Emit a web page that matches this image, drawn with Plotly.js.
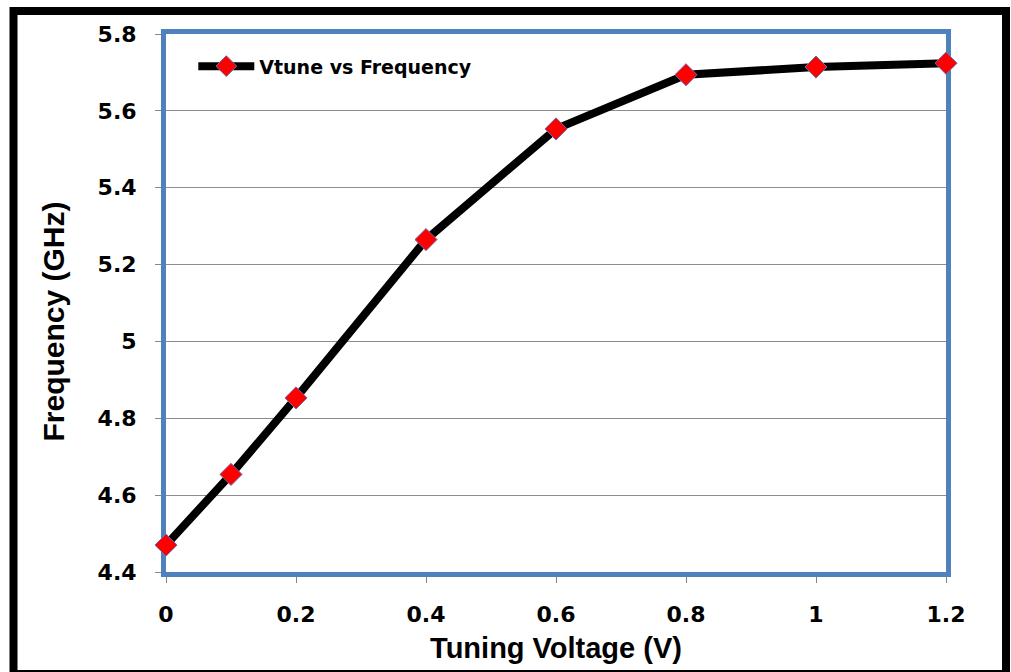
<!DOCTYPE html>
<html>
<head>
<meta charset="utf-8">
<script src="https://cdn.plot.ly/plotly-3.0.1.min.js"></script>
<style>html,body{margin:0;padding:0;background:#fff;}#chart{width:1011px;height:672px;}</style>
</head>
<body>
<div id="chart"></div>
<script>
const vtune = [0, 0.1, 0.2, 0.4, 0.6, 0.8, 1.0, 1.2];
const frequency = [4.47, 4.654, 4.853, 5.265, 5.553, 5.694, 5.714, 5.724];
const seriesName = 'Vtune vs Frequency';
const xTitle = 'Tuning Voltage (V)';
const yTitle = 'Frequency (GHz)';

const FONT = 'Liberation Sans, Arial, sans-serif';
const TFONT = 'DejaVu Sans, Verdana, sans-serif';
const trace = {
  x: vtune, y: frequency, name: seriesName, type: 'scatter', mode: 'lines+markers',
  line: {color: '#000000', width: 8},
  marker: {symbol: 'diamond', size: 17, color: '#FF0000', line: {color: '#6B6BB0', width: 1}},
  cliponaxis: false
};
const axisCommon = {
  showline: true, linecolor: '#4F81BD', linewidth: 5, mirror: true,
  ticks: 'outside', ticklen: 6, tickwidth: 1, tickcolor: '#868686',
  zeroline: false, layer: 'below traces',
  tickfont: {family: TFONT, size: 22, color: '#000', weight: 700}
};
const layout = {
  width: 1011, height: 672,
  margin: {l: 166, r: 65, t: 34, b: 100},
  paper_bgcolor: '#fff', plot_bgcolor: '#fff',
  showlegend: true,
  legend: {x: 0.035, y: 0.94, xanchor: 'left', yanchor: 'middle', bgcolor: 'rgba(0,0,0,0)',
           itemwidth: 56, font: {family: TFONT, size: 19, color: '#000', weight: 700}},
  xaxis: Object.assign({}, axisCommon, {
    range: [0, 1.2], dtick: 0.2, tick0: 0, showgrid: false, ticklabelstandoff: 13,
    title: {text: xTitle, standoff: 13, font: {family: FONT, size: 29, color: '#000', weight: 700}}
  }),
  yaxis: Object.assign({}, axisCommon, {
    range: [4.4, 5.8], dtick: 0.2, tick0: 4.4, showgrid: true, gridcolor: '#8C8C8C', gridwidth: 1,
    ticklabelstandoff: 14
  }),
  annotations: [{text: yTitle, xref: 'paper', yref: 'paper', x: -0.1436, y: 0.4656,
                 xanchor: 'center', yanchor: 'middle', textangle: -90, showarrow: false,
                 font: {family: FONT, size: 30, color: '#000', weight: 700}}],
  shapes: [{type: 'rect', xref: 'paper', yref: 'paper',
            x0: -0.19551, x1: 1.07692, y0: -0.18959, y1: 1.04275,
            line: {color: '#000', width: 8}, fillcolor: 'rgba(0,0,0,0)', layer: 'above'}]
};
Plotly.newPlot('chart', [trace], layout, {displayModeBar: false, staticPlot: true});
</script>
</body>
</html>
